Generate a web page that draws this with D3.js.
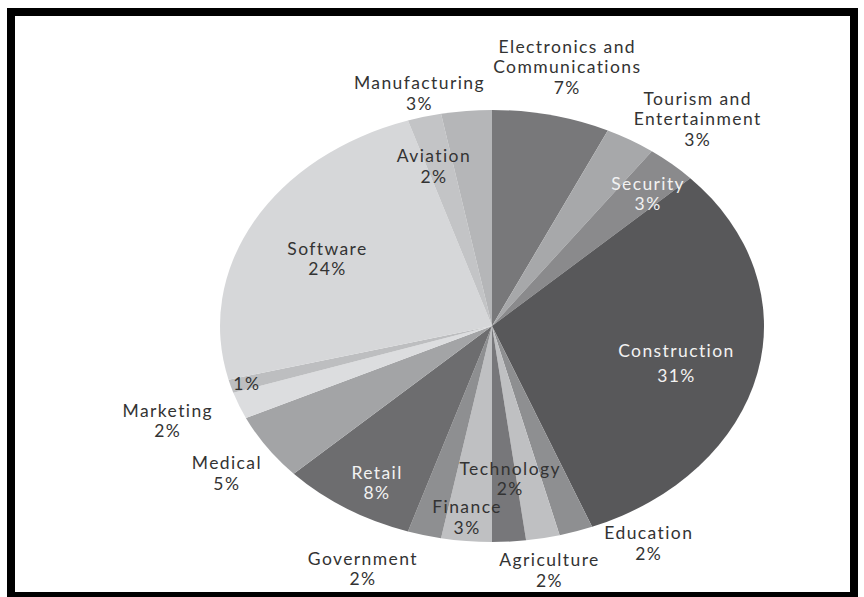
<!DOCTYPE html>
<html>
<head>
<meta charset="utf-8">
<script src="https://cdn.jsdelivr.net/npm/d3@7"></script>
<style>
  body { margin: 0; background: #fff; }
  svg text { font-family: Lato, "Open Sans", sans-serif; }
</style>
</head>
<body>
<svg id="chart" width="864" height="597"></svg>
<script>
// industries, clockwise from 12 o'clock
var categories = ["Electronics and\nCommunications", "Tourism and\nEntertainment", "Security", "Construction",
    "Education", "Agriculture", "Technology", "Finance", "Government", "Retail",
    "Medical", "Marketing", "", "Software", "Aviation", "Manufacturing"];
var shares = [7, 3, 3, 31, 2, 2, 2, 3, 2, 8, 5, 2, 1, 24, 2, 3];

var fills = ["#78787a", "#a7a8aa", "#8a8a8c", "#58585a", "#8e8f91", "#bfc0c2", "#77777a", "#bfc0c2",
    "#8e8f91", "#6d6d6f", "#a3a4a6", "#dcdddf", "#bdbec0", "#d6d7d9", "#c3c4c6", "#b5b6b8"];
// label placement: radial factor, angle nudge (deg)
var labelK = [1.23, 1.22, 0.84, 0.70, 1.16, 1.15, 0.71, 0.89, 1.22, 0.84, 1.19, 1.27, 0.94, 0.68, 0.77, 1.11];
var labelNudge = [0.4, 7.7, 1.7, 1.8, -11.8, 0.2, -1.8, 0.5, 8.5, -2.2, -0.8, 1.4, -0.3, -1.6, -1.7, -8.5];
var whiteText = ["Security", "Construction", "Retail"];

var svg = d3.select("#chart"),
    width = +svg.attr("width"),
    height = +svg.attr("height"),
    cx = 492, cy = 326,
    rx = 272, ry = 216;

svg.append("rect")
    .attr("x", 11).attr("y", 12)
    .attr("width", 843).attr("height", 584)
    .attr("fill", "none")
    .attr("stroke", "#000")
    .attr("stroke-width", 8);

var pie = d3.pie().sort(null).value(function(d) { return d; });
var arcs = pie(shares);

var arc = d3.arc().innerRadius(0).outerRadius(ry);

// the pie is an ellipse: draw a circle and stretch it sideways
svg.append("g")
    .attr("transform", "translate(" + cx + "," + cy + ") scale(" + (rx / ry) + ",1)")
    .selectAll("path")
    .data(arcs)
    .enter().append("path")
    .attr("d", arc)
    .attr("fill", function(d, i) { return fills[i]; });

var labels = svg.append("g")
    .attr("font-size", 17.5)
    .attr("letter-spacing", "1.4px")
    .attr("text-anchor", "middle");

arcs.forEach(function(d, i) {
    var a = (d.startAngle + d.endAngle) / 2 + labelNudge[i] * Math.PI / 180;
    var x = cx + rx * labelK[i] * Math.sin(a),
        y = cy - ry * labelK[i] * Math.cos(a);
    var lines = categories[i] ? categories[i].split("\n") : [];
    lines.push(shares[i] + "%");
    var gap = categories[i] == "Construction" ? 25 : 20.5;
    var t = labels.append("text")
        .attr("fill", whiteText.indexOf(categories[i]) >= 0 ? "#f2f2f2" : "#333");
    lines.forEach(function(s, j) {
        t.append("tspan")
            .attr("x", x)
            .attr("y", y - (lines.length - 1) * gap / 2 + j * gap)
            .attr("dy", "0.36em")
            .text(s);
    });
});
</script>
</body>
</html>
